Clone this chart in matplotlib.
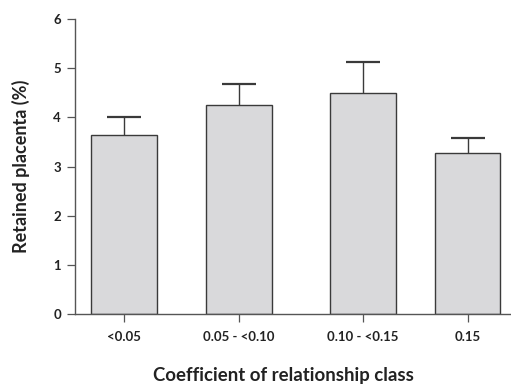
import matplotlib
matplotlib.use("Agg")
import matplotlib.pyplot as plt
import numpy as np

plt.rcParams['font.family'] = ['Lato', 'DejaVu Sans']

categories = ["<0.05", "0.05 - <0.10", "0.10 - <0.15", "0.15"]
means = [3.64, 4.26, 4.49, 3.27]
sem = [0.36, 0.42, 0.63, 0.30]
y_ticks = [0, 1, 2, 3, 4, 5, 6]

positions = [0.49, 1.6375, 2.88, 3.925]
bar_width = 0.655

edge = "#3a3a3a"
fill = "#d9d9db"
text_color = "#222222"

fig = plt.figure(figsize=(5.11, 3.84), dpi=100)
ax = fig.add_axes([75 / 511, 70 / 384, 436 / 511, 295 / 384])

ax.bar(positions, means, width=bar_width, color=fill, edgecolor=edge,
       linewidth=1.0, zorder=2)

# upper error whiskers only, with a cap at the top
upper = np.array(means) + np.array(sem)
ax.vlines(positions, means, upper, color=edge, linewidth=1.0, zorder=1)
ax.plot(positions, upper, linestyle="none", marker="_", markersize=24,
        markeredgewidth=1.6, color=edge, zorder=3)

ax.set_xlim(0, 4.36)
ax.set_ylim(0, 6)
ax.set_yticks(y_ticks)
ax.set_xticks(positions)
ax.set_xticklabels(categories)

for side in ("top", "right"):
    ax.spines[side].set_visible(False)
for side in ("left", "bottom"):
    ax.spines[side].set_color("#555555")
    ax.spines[side].set_linewidth(1.0)

ax.tick_params(axis="both", direction="out", length=6, width=0.9,
               color="#555555", labelsize=9.5, pad=4)
ax.tick_params(axis="x", pad=6)
for lab in ax.get_xticklabels() + ax.get_yticklabels():
    lab.set_fontweight("bold")
    lab.set_color(text_color)

ax.set_ylabel("Retained placenta (%)", fontsize=13, fontweight="bold",
              color=text_color)
ax.yaxis.set_label_coords(-0.104, 0.5)
ax.set_xlabel("Coefficient of relationship class", fontsize=13.4,
              fontweight="bold", color=text_color)
ax.xaxis.set_label_coords(0.477, -0.21)
ax.xaxis.label.set_va("center")

fig.savefig("out.png", dpi=100)
